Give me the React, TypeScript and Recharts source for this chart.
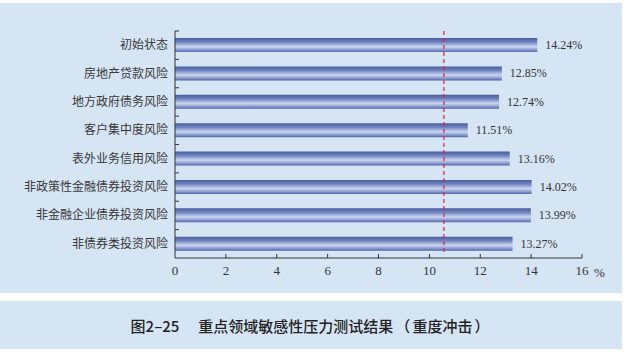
import { Bar, BarChart, XAxis, YAxis, ReferenceLine, LabelList } from "recharts"

const categories = [
  "初始状态",
  "房地产贷款风险",
  "地方政府债务风险",
  "客户集中度风险",
  "表外业务信用风险",
  "非政策性金融债券投资风险",
  "非金融企业债券投资风险",
  "非债券类投资风险",
]
const ratios = [14.24, 12.85, 12.74, 11.51, 13.16, 14.02, 13.99, 13.27]
const xTicks = [0, 2, 4, 6, 8, 10, 12, 14, 16]
const threshold = 10.57

const chartData = categories.map((name, i) => ({ name, value: ratios[i] }))

const serif = '"Liberation Serif", "Times New Roman", Times, "DejaVu Serif", serif'
const cjk = '"Noto Sans CJK SC", sans-serif'

function XTick(props: any) {
  const { x, y, payload } = props
  return (
    <g>
      {payload.value !== 0 && <line x1={x} y1={y} x2={x} y2={y - 4} stroke="#333" />}
      <text x={x} y={y + 17} textAnchor="middle" style={{ fontFamily: serif, fontSize: 13 }} fill="#333">
        {payload.value}
      </text>
    </g>
  )
}

function YTick(props: any) {
  const { x, y, payload } = props
  const half = payload.offset || 14
  return (
    <g>
      <line x1={x} y1={y - half} x2={x + 4} y2={y - half} stroke="#333" />
      <text x={x - 7} y={y + 4} textAnchor="end" style={{ fontFamily: cjk, fontSize: 12 }} fill="#383838">
        {payload.value}
      </text>
    </g>
  )
}

function DashLine(props: any) {
  const { x1, y1, x2, y2 } = props
  return <line x1={x1} y1={y1 - 6} x2={x2} y2={y2} stroke="#e0203f" strokeWidth={1.2} strokeDasharray="4 3" />
}

function ValueLabel(props: any) {
  const { x, y, width, height, value } = props
  return (
    <text
      x={x + width + 8}
      y={y + height / 2 + 4}
      style={{ fontFamily: serif, fontSize: 12 }}
      fill="#333"
    >
      {`${Number(value).toFixed(2)}%`}
    </text>
  )
}

export default function App() {
  return (
    <div style={{ position: "absolute", left: 0, top: 0, width: 626, height: 353, background: "#fff" }}>
      <div style={{ position: "absolute", left: 0, top: 3, width: 622, height: 290, background: "#d6e5f3" }}>
        <BarChart
          width={622}
          height={290}
          data={chartData}
          layout="vertical"
          margin={{ top: 28, right: 40, bottom: 5, left: 0 }}
          barCategoryGap={0}
        >
          <defs>
            <linearGradient id="barFill" x1="0" y1="0" x2="0" y2="1">
              <stop offset="0%" stopColor="#485b9e" />
              <stop offset="30%" stopColor="#7184c0" />
              <stop offset="62%" stopColor="#ccd7ef" />
              <stop offset="85%" stopColor="#8898cf" />
              <stop offset="100%" stopColor="#5265a8" />
            </linearGradient>
          </defs>
          <XAxis
            type="number"
            domain={[0, 16]}
            ticks={xTicks}
            tick={<XTick />}
            tickLine={false}
            tickSize={0}
            tickMargin={0}
            height={30}
            stroke="#333"
            label={{ value: "%", position: "right", offset: 12, dy: -1, style: { fontFamily: serif, fontSize: 13 }, fill: "#333" }}
          />
          <YAxis
            type="category"
            dataKey="name"
            width={175}
            tick={<YTick />}
            tickLine={false}
            tickSize={0}
            tickMargin={0}
            interval={0}
            stroke="#333"
          />
          <ReferenceLine x={threshold} shape={<DashLine />} />
          <Bar dataKey="value" fill="url(#barFill)" barSize={14} isAnimationActive={false}>
            <LabelList dataKey="value" content={<ValueLabel />} />
          </Bar>
        </BarChart>
      </div>
      <div
        style={{
          position: "absolute",
          left: 0,
          top: 301,
          width: 622,
          height: 48,
          background: "#d6e5f3",
          display: "flex",
          alignItems: "center",
          justifyContent: "center",
          fontFamily: cjk,
          fontSize: 15,
          fontWeight: 500,
          color: "#222",
          whiteSpace: "pre",
        }}
      >
        <span style={{ marginRight: 19 }}>图2–25</span>
        <span>重点领域敏感性压力测试结果</span>
        <span style={{ margin: "0 2px" }}>（</span>
        <span>重度冲击</span>
        <span style={{ margin: "0 2px" }}>）</span>
      </div>
    </div>
  )
}
